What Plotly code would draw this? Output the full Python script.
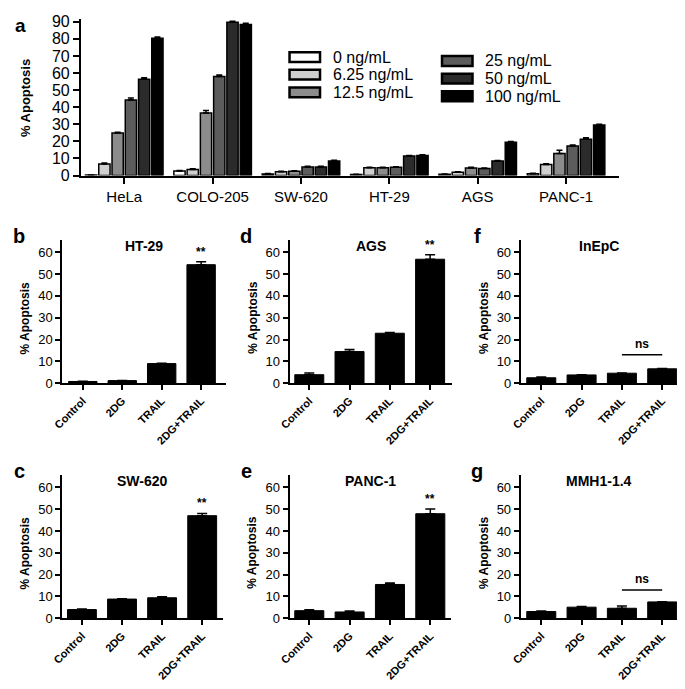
import plotly.graph_objects as go

# page body has an 8px default margin, so the figure is drawn 8px smaller and
# all pixel positions below are given in window coordinates and shifted by 8.
OFF = 8
W, H = 685 - OFF, 689 - OFF
FONT = "Liberation Sans, Arial, sans-serif"

# ---------------- data: panel a ----------------
cell_lines = ["HeLa", "COLO-205", "SW-620", "HT-29", "AGS", "PANC-1"]
doses = ["0 ng/mL", "6.25 ng/mL", "12.5 ng/mL", "25 ng/mL", "50 ng/mL", "100 ng/mL"]
dose_colors = ["#ffffff", "#cfcfcf", "#8c8c8c", "#5c5c5c", "#2b2b2b", "#000000"]
apop_0 = [0.3, 2.7, 1.0, 0.6, 0.8, 1.1]
apop_625 = [6.8, 3.6, 2.3, 4.6, 1.9, 6.5]
apop_125 = [24.9, 36.6, 2.5, 4.6, 4.4, 12.9]
apop_25 = [44.2, 58.0, 5.1, 4.9, 4.2, 17.3]
apop_50 = [56.4, 89.8, 5.1, 11.4, 8.5, 21.3]
apop_100 = [80.3, 88.4, 8.5, 11.8, 19.5, 29.6]
err_0 = [0.0, 0.3, 0.2, 0.2, 0.2, 0.2]
err_625 = [0.5, 0.4, 0.3, 0.3, 0.3, 0.5]
err_125 = [0.5, 1.5, 0.3, 0.3, 0.5, 2.0]
err_25 = [1.2, 0.8, 0.3, 0.3, 0.3, 0.6]
err_50 = [0.8, 0.5, 0.3, 0.4, 0.4, 0.9]
err_100 = [0.8, 0.8, 0.5, 0.4, 0.5, 0.5]

# ---------------- data: panels b-g ----------------
treatments = ["Control", "2DG", "TRAIL", "2DG+TRAIL"]
ht29_vals = [0.8, 1.2, 9.0, 54.3]
ht29_err = [0.1, 0.1, 0.2, 1.3]
sw620_vals = [4.0, 8.8, 9.4, 47.0]
sw620_err = [0.3, 0.2, 0.5, 1.0]
ags_vals = [3.9, 14.5, 22.9, 56.8]
ags_err = [0.8, 1.0, 0.3, 2.0]
panc1_vals = [3.5, 2.9, 15.5, 47.9]
panc1_err = [0.4, 0.4, 0.7, 2.2]
inepc_vals = [2.5, 3.8, 4.6, 6.6]
inepc_err = [0.3, 0.1, 0.1, 0.1]
mmh_vals = [3.1, 5.1, 4.6, 7.5]
mmh_err = [0.2, 0.3, 1.0, 0.1]

fig = go.Figure()

# ---------------- panel a ----------------
a_vals = [apop_0, apop_625, apop_125, apop_25, apop_50, apop_100]
a_errs = [err_0, err_625, err_125, err_25, err_50, err_100]
for name, col, v, e in zip(doses, dose_colors, a_vals, a_errs):
    fig.add_trace(go.Bar(
        x=cell_lines, y=v, name=name, xaxis="x", yaxis="y",
        marker=dict(color=col, line=dict(color="black", width=1.5)),
        error_y=dict(type="data", array=e, arrayminus=[0] * len(e), symmetric=False,
                     color="black", thickness=1.5, width=3),
        showlegend=False,
    ))

# ---------------- panels b-g ----------------
panels = [
    ("2", "HT-29", ht29_vals, ht29_err, "b", "**"),
    ("3", "SW-620", sw620_vals, sw620_err, "c", "**"),
    ("4", "AGS", ags_vals, ags_err, "d", "**"),
    ("5", "PANC-1", panc1_vals, panc1_err, "e", "**"),
    ("6", "InEpC", inepc_vals, inepc_err, "f", "ns"),
    ("7", "MMH1-1.4", mmh_vals, mmh_err, "g", "ns"),
]
for key, title, v, e, lab, sig in panels:
    fig.add_trace(go.Bar(
        x=treatments, y=v, xaxis="x" + key, yaxis="y" + key, width=0.72,
        marker=dict(color="black", line=dict(color="black", width=1)),
        error_y=dict(type="data", array=e, arrayminus=[0] * len(e), symmetric=False,
                     color="black", thickness=1.5, width=5),
        showlegend=False,
    ))

def px_x(x):
    return (x - OFF) / W

def px_y(y):
    return 1 - (y - OFF) / H

axis_common = dict(showline=True, linecolor="black", linewidth=2, ticks="outside",
                   tickcolor="black", tickwidth=2, showgrid=False, zeroline=False,
                   fixedrange=True)

layout = dict(
    width=W, height=H, margin=dict(l=0, r=0, t=0, b=0),
    paper_bgcolor="white", plot_bgcolor="white",
    font=dict(family=FONT, color="black"),
    barmode="group", bargap=0.1, bargroupgap=0.15,
    showlegend=False,
)

layout["xaxis"] = dict(axis_common, domain=[px_x(71), px_x(618)], anchor="y",
                       range=[-0.49, 5.6], ticklen=6,
                       tickfont=dict(size=15, family=FONT))
layout["yaxis"] = dict(axis_common, domain=[px_y(174), px_y(14)], anchor="x",
                       range=[0, 91.7], tickvals=list(range(0, 91, 10)), ticklen=6,
                       tickfont=dict(size=16, family=FONT))

geom = {
    "2": (52, 218, 386, 240, [-0.52, 3.62]),
    "3": (52, 215, 626, 480, [-0.49, 3.51]),
    "4": (283, 448, 386, 240, [-0.49, 3.54]),
    "5": (283, 447, 626, 480, [-0.49, 3.51]),
    "6": (518, 677, 386, 240, [-0.51, 3.37]),
    "7": (518, 677, 626, 480, [-0.51, 3.37]),
}
annotations = []
shapes = []
for key, title, v, e, lab, sig in panels:
    xl, xr, yb, yt, xr_ = geom[key]
    layout["xaxis" + key] = dict(axis_common, domain=[px_x(xl), px_x(xr)], anchor="y" + key,
                                 range=xr_, ticklen=5, tickangle=-45,
                                 tickfont=dict(size=11, family=FONT, weight="bold"))
    layout["yaxis" + key] = dict(axis_common, domain=[px_y(yb), px_y(yt)], anchor="x" + key,
                                 range=[0, 65.5], tickvals=list(range(0, 61, 10)), ticklen=5,
                                 tickfont=dict(size=13, family=FONT))
    annotations.append(dict(text="<b>%s</b>" % title, xref="x%s domain" % key, yref="paper",
                            x=0.5, y=px_y(yt + 6), xanchor="center", yanchor="middle",
                            showarrow=False, font=dict(size=14, family=FONT)))
    annotations.append(dict(text="<b>% Apoptosis</b>", xref="paper", yref="paper",
                            x=px_x(xl - 38), y=px_y((yb + yt) / 2 + 6), textangle=-90,
                            xanchor="center", yanchor="middle", showarrow=False,
                            font=dict(size=12, family=FONT)))
    annotations.append(dict(text="<b>%s</b>" % lab, xref="paper", yref="paper",
                            x=px_x(xl - 44), y=px_y(yt - 4), xanchor="center", yanchor="middle",
                            showarrow=False, font=dict(size=20, family=FONT)))
    if sig == "**":
        annotations.append(dict(text="<b>**</b>", xref="x" + key, yref="y" + key,
                                x=treatments[3], y=v[3] + e[3] + 0.5, xanchor="center",
                                yanchor="bottom", showarrow=False,
                                font=dict(size=12, family=FONT)))
    else:
        ns_y = 13
        shapes.append(dict(type="line", xref="x" + key, yref="y" + key, x0=2, x1=3,
                           y0=ns_y, y1=ns_y, line=dict(color="black", width=1.5)))
        annotations.append(dict(text="<b>ns</b>", xref="x" + key, yref="y" + key,
                                x=2.5, y=ns_y + 0.8, xanchor="center", yanchor="bottom",
                                showarrow=False, font=dict(size=12, family=FONT)))

annotations.append(dict(text="<b>% Apoptosis</b>", xref="paper", yref="paper",
                        x=px_x(14), y=px_y(95), textangle=-90, xanchor="center",
                        yanchor="middle", showarrow=False, font=dict(size=13, family=FONT)))
annotations.append(dict(text="<b>a</b>", xref="paper", yref="paper", x=px_x(10), y=px_y(8),
                        xanchor="center", yanchor="top", showarrow=False,
                        font=dict(size=19, family=FONT)))

leg_pos = [(283, 53), (283, 71), (283, 89), (438, 57), (438, 75), (438, 93)]
for (lx, ly), name, col in zip(leg_pos, doses, dose_colors):
    shapes.append(dict(type="rect", xref="paper", yref="paper",
                       x0=px_x(lx), x1=px_x(lx + 31), y0=px_y(ly + 5), y1=px_y(ly - 5),
                       fillcolor=col, line=dict(color="black", width=2.5)))
    annotations.append(dict(text=name, xref="paper", yref="paper", x=px_x(lx + 42),
                            y=px_y(ly), xanchor="left", yanchor="middle", showarrow=False,
                            font=dict(size=16, family=FONT)))

layout["annotations"] = annotations
layout["shapes"] = shapes
fig.update_layout(**layout)

fig.write_html("out.html")
